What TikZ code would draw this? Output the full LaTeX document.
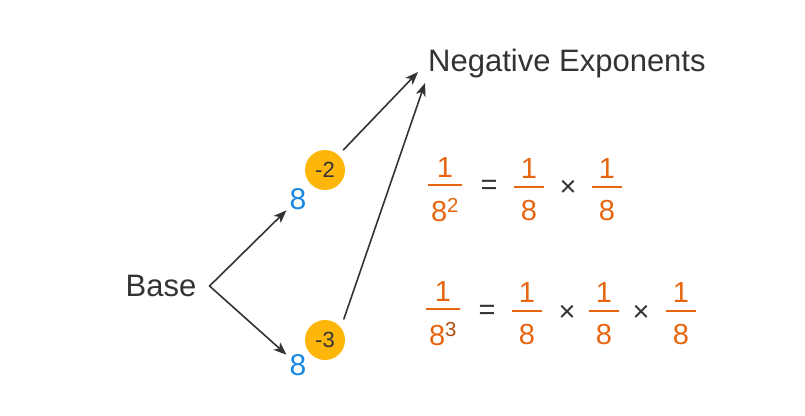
\documentclass[tikz,border=0pt]{standalone}
\usepackage{fontspec}
\setmainfont{Liberation Sans}
\usepackage{xcolor}
\usetikzlibrary{arrows.meta, positioning}
\definecolor{inkgray}{HTML}{333333}
\definecolor{expblue}{HTML}{1A88E0}
\definecolor{expgold}{HTML}{FFB60A}
\definecolor{fracorange}{HTML}{E8650F}
% stacked fraction: [bar width]{numerator}{denominator}
\newcommand{\fr}[3][30pt]{\vbox{\hbox to #1{\hss#2\hss}\kern7pt\hrule height 2.4pt\kern12pt\hbox to #1{\hss#3\hss}}}
\tikzset{
  lbl/.style={font=\fontsize{31}{36}\selectfont, text=inkgray, inner sep=2pt},
  baseeight/.style={font=\fontsize{30}{34}\selectfont, text=expblue, inner sep=3pt},
  expdot/.style={circle, fill=expgold, minimum size=40pt, inner sep=0pt, font=\fontsize{22}{26}\selectfont, text=inkgray},
  frac/.style={font=\fontsize{29}{33}\selectfont, text=fracorange, inner sep=0pt},
  op/.style={font=\fontsize{29}{33}\selectfont, text=inkgray, inner sep=0pt},
  arrow/.style={-{Stealth[length=13pt, width=10pt, inset=3.5pt]}, line width=1.6pt, draw=inkgray, line cap=round}
}
\begin{document}
\begin{tikzpicture}[x=1pt, y=-1pt]
    \useasboundingbox (0,0) rectangle (805,415);

    \node[lbl] (base) at (161,286) {Base};
    \coordinate (fork) at ([xshift=11pt]base.east);
    \node[baseeight] (e1) at (298,199) {8};
    \node[baseeight] (e2) at (298,365) {8};
    \node[expdot] (c1) at (325,170) {-2};
    \node[expdot] (c2) at (325,340) {-3};

    \node[lbl, anchor=west, inner sep=0pt] (title) at (428,63) {Negative Exponents};
    \coordinate (t1) at ([xshift=-10pt, yshift=-9pt]title.west);
    \coordinate (t2) at ([xshift=-3pt, yshift=-20pt]title.west);

    \draw[arrow] (fork) -- (e1);
    \draw[arrow] (fork) -- (e2);
    \draw[arrow, shorten <=7pt] (c1.48) -- (t1);
    \draw[arrow, shorten <=9pt] (c2.38) -- (t2);

    % first row
    \node[frac] (f11) at (445,189.5) {\fr[34pt]{1}{8\textsuperscript{2}}};
    \node[op] (eq1) at (489,187) {=};
    \node[frac] (f12) at (529,189.5) {\fr{1}{8}};
    \node[op] (x11) at (568,188) {×};
    \node[frac] (f13) at (607,189.5) {\fr{1}{8}};

    % second row
    \node[frac] (f21) at (443,313.5) {\fr[34pt]{1}{8\textsuperscript{\color{fracorange!75!black}3}}};
    \node[op] (eq2) at (487,312) {=};
    \node[frac] (f22) at (527,313.5) {\fr{1}{8}};
    \node[op] (x21) at (567,313) {×};
    \node[frac] (f23) at (604,313.5) {\fr{1}{8}};
    \node[op] (x22) at (641,313) {×};
    \node[frac] (f24) at (681,313.5) {\fr{1}{8}};
\end{tikzpicture}
\end{document}
